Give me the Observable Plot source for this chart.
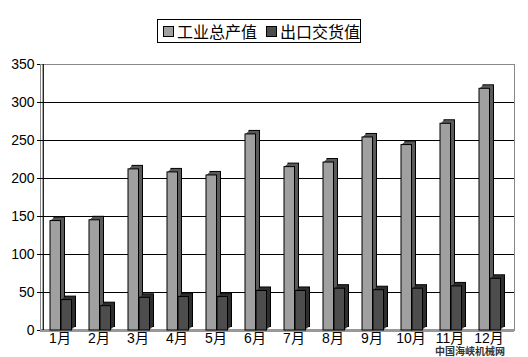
<!DOCTYPE html>
<html><head><meta charset="utf-8">
<script src="https://cdn.jsdelivr.net/npm/d3@7"></script>
<script src="https://cdn.jsdelivr.net/npm/@observablehq/plot@0.6"></script>
<style>
body{margin:0;background:#fff;}
#wrap{position:relative;width:528px;height:357px;overflow:hidden;}
#legend{position:absolute;left:157px;top:19px;width:202px;height:22px;border:1px solid #000;background:#fff;
  font:16px "Noto Sans CJK SC",sans-serif;display:flex;align-items:center;box-sizing:content-box;white-space:nowrap;}
#legend .sw{display:inline-block;width:9px;height:9px;border:1px solid #000;margin:0 3px 0 5px;}
#legend .item{display:flex;align-items:center;line-height:22px;}
#mark{position:absolute;left:435px;top:345px;font:bold 10px "Noto Sans CJK SC",sans-serif;color:#333;white-space:nowrap;line-height:11px;}
</style></head>
<body><div id="wrap"></div>
<script>
const months = ["1月","2月","3月","4月","5月","6月","7月","8月","9月","10月","11月","12月"];
const industrial = [144,145,212,208,204,258,215,221,254,244,272,318];
const exportVal = [40,32,43,44,44,52,52,55,53,55,58,68];
const seriesNames = ["工业总产值","出口交货值"];
const yTicks = [0,50,100,150,200,250,300,350];
const gridTicks = [50,100,150,200,250,300];

const dataA = months.map((m,i)=>({month:m, value:industrial[i]}));
const dataB = months.map((m,i)=>({month:m, value:exportVal[i]}));

const grayFace="#a0a0a0", graySide="#5a5a5a", darkFace="#4d4d4d", darkSide="#2e2e2e";
const depthX=4, depthY=-3.5;

function bar3d(data, insetLeft, insetRight, face, side) {
  const opts = {x:"month", y:"value", insetLeft, insetRight};
  const marks = [Plot.barY(data,{...opts, dx:depthX, dy:depthY, fill:side, stroke:"#000", strokeWidth:1})];
  for (let k = 3; k >= 1; k--) {
    marks.push(Plot.barY(data,{...opts, dx:k, dy:depthY*k/depthX, fill:side}));
  }
  marks.push(Plot.barY(data,{...opts, fill:face, stroke:"#000", strokeWidth:1}));
  return marks;
}

const chart = Plot.plot({
  width:528, height:357,
  marginLeft:40, marginRight:14, marginTop:64, marginBottom:27,
  style:{fontFamily:'"Liberation Sans","Noto Sans CJK SC",sans-serif', fontSize:"14px", background:"#fff", color:"#000"},
  x:{type:"band", domain:months, paddingInner:0, paddingOuter:0},
  y:{domain:[0,350]},
  marks:[
    Plot.frame({stroke:"#888"}),
    Plot.ruleY(gridTicks,{stroke:"#000", strokeWidth:1.2}),
    Plot.ruleY([0],{stroke:"#999", strokeWidth:3}),
    ...bar3d(dataA, 7, 21.5, grayFace, graySide),
    ...bar3d(dataB, 18, 10.5, darkFace, darkSide),
    Plot.ruleX([months[0]],{dx:-19.75, stroke:"#000", strokeWidth:1.2}),
    Plot.axisY({ticks:yTicks, tickSize:3, tickPadding:3, label:null, fontSize:14}),
    Plot.axisX({tickSize:0, tickPadding:3, label:null, dx:-3, fontSize:14})
  ]
});
const wrap = document.getElementById("wrap");
wrap.appendChild(chart);
const legend = document.createElement("div");
legend.id="legend";
legend.innerHTML = `<span class="item"><span class="sw" style="background:${grayFace}"></span>${seriesNames[0]}</span><span class="item"><span class="sw" style="background:${darkFace};margin-left:9px"></span>${seriesNames[1]}</span>`;
wrap.appendChild(legend);
const wm = document.createElement("div");
wm.id="mark"; wm.textContent="中国海峡机械网";
wrap.appendChild(wm);
</script></body></html>
